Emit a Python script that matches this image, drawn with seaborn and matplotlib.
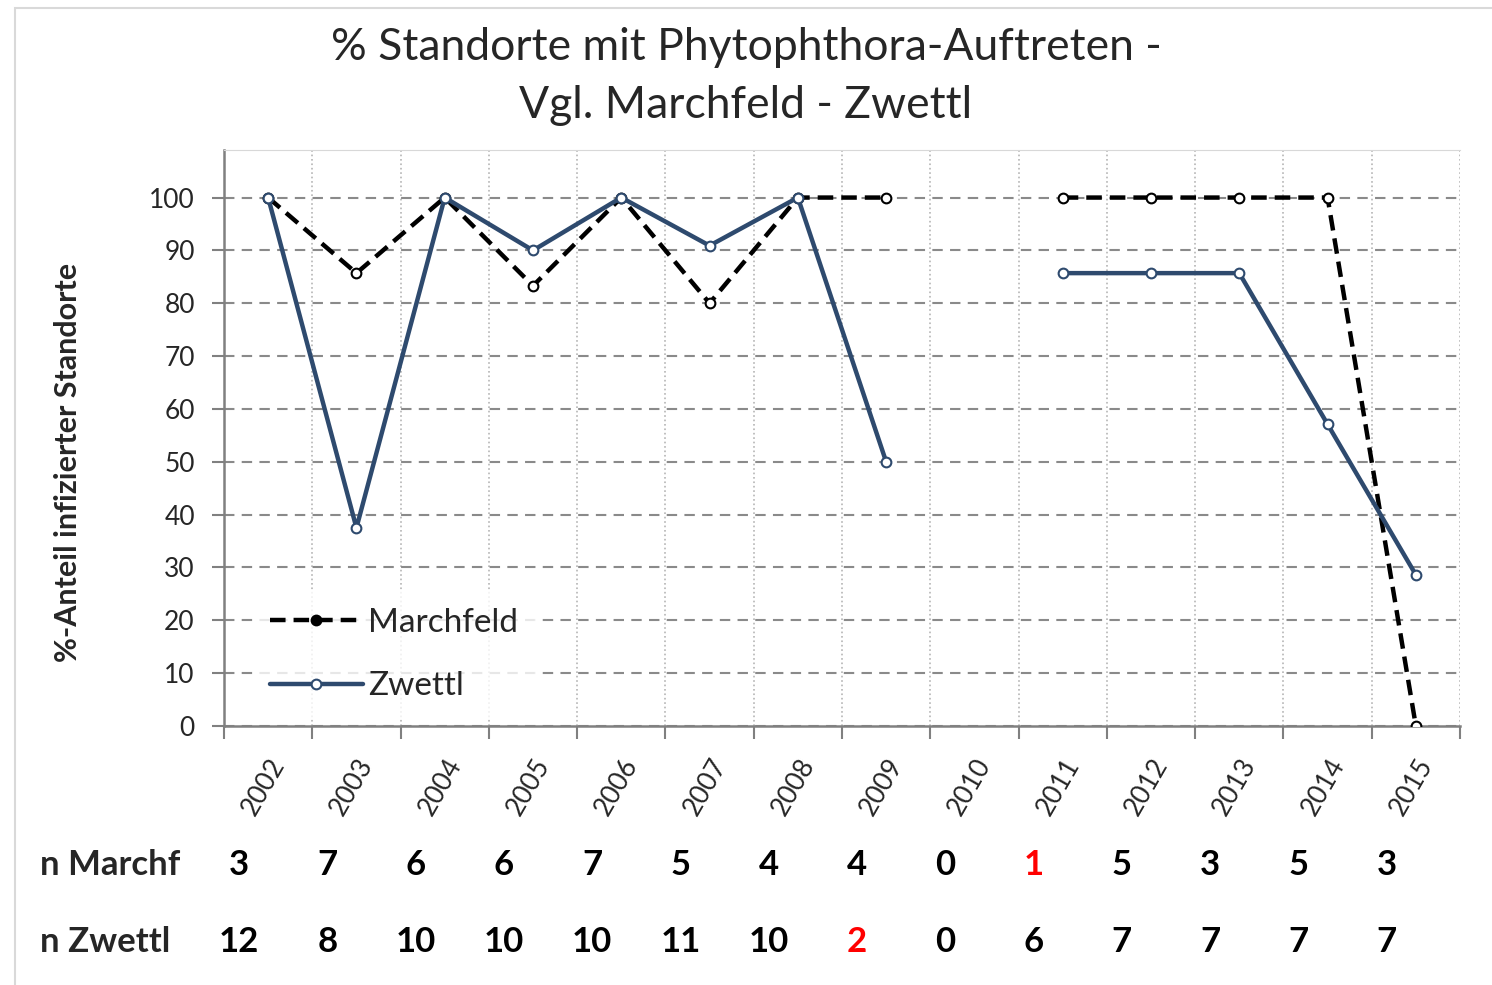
import matplotlib
matplotlib.use('Agg')
import matplotlib.pyplot as plt
from matplotlib.lines import Line2D
from matplotlib.patches import Rectangle
import seaborn as sns
import pandas as pd
import numpy as np

years = ['2002', '2003', '2004', '2005', '2006', '2007', '2008',
         '2009', '2010', '2011', '2012', '2013', '2014', '2015']
marchfeld = [100, 85.7, 100, 83.3, 100, 80, 100,
             100, np.nan, 100, 100, 100, 100, 0]
zwettl = [100, 37.5, 100, 90, 100, 90.9, 100,
          50, np.nan, 85.7, 85.7, 85.7, 57.1, 28.6]
n_marchf = [3, 7, 6, 6, 7, 5, 4, 4, 0, 1, 5, 3, 5, 3]
n_zwettl = [12, 8, 10, 10, 10, 11, 10, 2, 0, 6, 7, 7, 7, 7]

sns.set_style('white')
plt.rcParams['font.family'] = ['Lato', 'DejaVu Sans']

# long format, one "unit" per gap-free stretch so lines break at 2010
rows = []
for site, vals in [('Marchfeld', marchfeld), ('Zwettl', zwettl)]:
    seg = 0
    for i, v in enumerate(vals):
        if np.isnan(v):
            seg += 1
            continue
        rows.append({'x': i, 'pct': v, 'site': site, 'seg': seg})
df = pd.DataFrame(rows)

colors = {'Marchfeld': 'black', 'Zwettl': '#2e4a6e'}
dash = (3.5, 1.8)

fig = plt.figure(figsize=(14.92, 9.85), dpi=100)
ax = fig.add_axes([224 / 1492, 1 - 726 / 985, 1236 / 1492, 576 / 985])

sns.lineplot(data=df, x='x', y='pct', hue='site', style='site', units='seg',
             estimator=None, palette=colors,
             dashes={'Marchfeld': dash, 'Zwettl': ''},
             markers={'Marchfeld': 'o', 'Zwettl': 'o'},
             markersize=7, markerfacecolor='white', markeredgewidth=1.5,
             linewidth=3.2, legend=False, ax=ax, zorder=3)
for ln in ax.lines:
    ln.set_markeredgecolor(ln.get_color())

ax.set_xlim(-0.5, 13.5)
ax.set_ylim(0, 109)
ax.set_yticks(range(0, 101, 10))
ax.set_xticks(range(len(years)))
ax.set_xticklabels(years, rotation=60, ha='right', rotation_mode='anchor')
ax.set_xticks(np.arange(-0.5, 13.6, 1), minor=True)
ax.tick_params(axis='x', which='major', length=0, pad=20, labelsize=19)
ax.tick_params(axis='x', which='minor', length=9, width=1.5,
               color='#808080', direction='out', bottom=True)
ax.tick_params(axis='y', length=9, width=1.5, color='#808080',
               direction='out', left=True, pad=12, labelsize=19)

ax.yaxis.grid(True, color='#8a8a8a', linestyle=(0, (5, 3.5)), linewidth=1.5)
ax.xaxis.grid(True, which='minor', color='#b5b5b5', linestyle=':', linewidth=1.2)
ax.xaxis.grid(False, which='major')

for side in ['left', 'bottom']:
    ax.spines[side].set_color('#808080')
    ax.spines[side].set_linewidth(1.8)
ax.spines['top'].set_color('#d8d8d8')
ax.spines['right'].set_visible(False)

ax.set_xlabel('')
ax.set_ylabel('%-Anteil infizierter Standorte', fontsize=22, fontweight='bold')
ax.yaxis.set_label_coords(-0.115, 0.458)

handles = [Line2D([], [], color='black', lw=3.2, ls=(0, dash), marker='o',
                  markersize=7, markerfacecolor='black', markeredgewidth=1.5),
           Line2D([], [], color=colors['Zwettl'], lw=3.2, marker='o',
                  markersize=7, markerfacecolor='white', markeredgewidth=1.5,
                  markeredgecolor=colors['Zwettl'])]
leg = ax.legend(handles, ['Marchfeld', 'Zwettl'], loc='lower left',
                bbox_to_anchor=(0.01, -0.015), fontsize=24, handlelength=2.8,
                handletextpad=0.15, labelspacing=1.0, frameon=True,
                fancybox=False, borderpad=0.5)
leg.get_frame().set_facecolor('white')
leg.get_frame().set_edgecolor('white')
leg.set_zorder(5)

fig.text(0.5, 1 - 47 / 985, '% Standorte mit Phytophthora-Auftreten -',
         ha='center', va='center', fontsize=32)
fig.text(0.5, 1 - 105 / 985, 'Vgl. Marchfeld - Zwettl',
         ha='center', va='center', fontsize=32)

# n table under the axis
trans = ax.get_xaxis_transform()
row_y = [(726 - 865) / 576, (726 - 942) / 576]
for label, counts, yy in [('n Marchf', n_marchf, row_y[0]),
                          ('n Zwettl', n_zwettl, row_y[1])]:
    fig.text(40 / 1492, 1 - (726 - yy * 576) / 985, label, ha='left',
             va='center', fontsize=25, fontweight='bold')
    for i, n in enumerate(counts):
        c = 'red' if 0 < n <= 2 else 'black'
        ax.text(i - 0.33, yy, str(n), transform=trans, ha='center',
                va='center', fontsize=25, color=c, fontweight='bold',
                clip_on=False)

fig.patches.append(Rectangle((15 / 1492, -0.01), 1.0, 1 - 8 / 985 + 0.01,
                             transform=fig.transFigure, fill=False,
                             edgecolor='#d9d9d9', linewidth=1.5))

fig.savefig('out.png', dpi=100)
plt.close('all')
